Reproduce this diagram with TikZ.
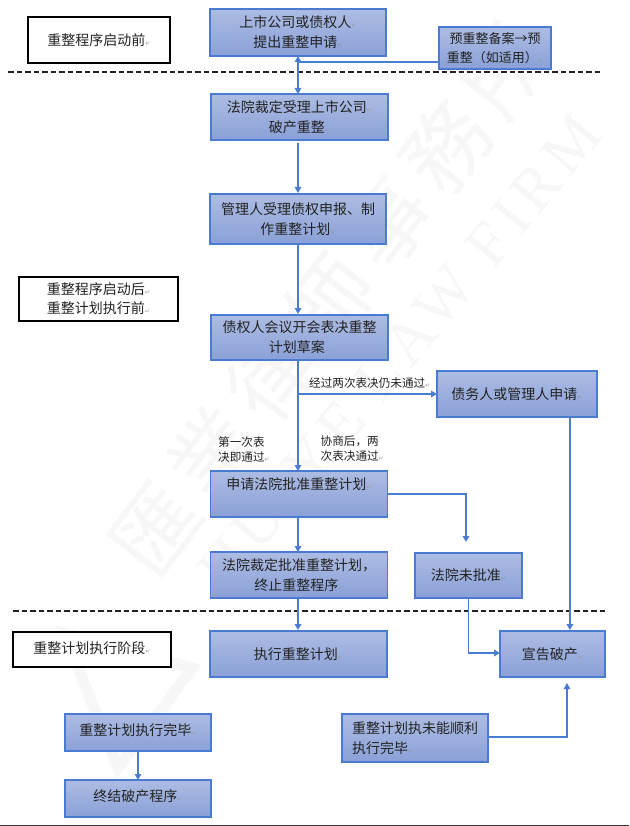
\documentclass[tikz,border=0pt]{standalone}
\usepackage{fontspec}
\usetikzlibrary{arrows.meta,calc}
\setmainfont{Noto Sans CJK SC}
\newfontfamily\djv{DejaVu Sans}
\newfontfamily\wmcjk[LetterSpace=13]{Noto Sans CJK TC}
\newfontfamily\wmlat[LetterSpace=12]{Liberation Serif}
\newcommand{\pmk}{{\djv\fontsize{6}{6}\selectfont\textcolor{black!40}{↵}}}
\definecolor{edgeblue}{HTML}{4A7BD0}
\definecolor{linkblue}{HTML}{4A7CD2}
\definecolor{gradtop}{HTML}{ADBCE3}
\definecolor{gradbot}{HTML}{8AA0D7}
\definecolor{inktext}{HTML}{222222}
\definecolor{wmark}{HTML}{F7F7F7}
\tikzset{
  x=1pt,y=-1pt,
  flowbox/.style={draw=edgeblue,line width=1.5pt,top color=gradtop,bottom color=gradbot,
    inner sep=0pt,outer sep=0pt,align=center,text=inktext,
    font=\fontsize{14}{20}\selectfont},
  stagebox/.style={draw=black,line width=1.6pt,fill=white,inner sep=0pt,outer sep=0pt,
    align=center,text=inktext,font=\fontsize{14}{20}\selectfont},
  link/.style={draw=linkblue,line width=1.7pt},
  linkarrow/.style={link,-{Triangle[length=6pt,width=6.5pt]}},
  linkboth/.style={link,{Triangle[length=6pt,width=6.5pt]}-{Triangle[length=6pt,width=6.5pt]}},
  smalltext/.style={inner sep=0pt,align=left,text=inktext,font=\fontsize{11.6}{15}\selectfont},
  divider/.style={draw=inktext,line width=1.6pt,dash pattern=on 5.5pt off 3pt},
  wmarktext/.style={inner sep=0pt,text=wmark},
}
\begin{document}
\begin{tikzpicture}
\path[fill=white] (0,0) rectangle (629,826);
\useasboundingbox (0,0) rectangle (629,826);
% watermark
\node[wmarktext,rotate=52.8,font=\wmcjk\fontsize{85}{85}\selectfont] (wm1) at (330,300) {匯業律師事務所};
\node[wmarktext,rotate=50.5,font=\wmlat\fontsize{62}{62}\selectfont] (wm2) at (400,352) {HUIYE LAW FIRM};
\draw[wmark,line width=11pt,line join=miter] (64,633) -- (192,668) -- (118,768) -- cycle;
% dividers and bottom rule
\coordinate (d1a) at (8,72); \coordinate (d1b) at (601,72);
\coordinate (d2a) at (13,611); \coordinate (d2b) at (605,611);
\draw[divider] (d1a) -- (d1b);
\draw[divider] (d2a) -- (d2b);
\fill[black!80] (0,824.6) rectangle (629,826);
% stage labels
\node[stagebox,minimum width=142pt,minimum height=46pt] (s1) at (99,40) {重整程序启动前\pmk};
\node[stagebox,minimum width=159pt,minimum height=44pt] (s2) at (98.5,299) {重整程序启动后\pmk\\[-1pt]重整计划执行前\pmk};
\node[stagebox,minimum width=158pt,minimum height=35pt] (s3) at (92,649.5) {\raisebox{4pt}{重整计划执行阶段\pmk}};
% flow boxes
\node[flowbox,minimum width=176pt,minimum height=47pt] (a) at (298,32.5) {上市公司或债权人\pmk\\提出重整申请\pmk};
\node[flowbox,minimum width=112pt,minimum height=42pt,font=\fontsize{13}{19.5}\selectfont] (b) at (495,48) {预重整备案→预\\重整（如适用）\pmk};
\node[flowbox,minimum width=177pt,minimum height=46pt] (c) at (299.5,117) {法院裁定受理上市公司\pmk\\破产重整\pmk};
\node[flowbox,minimum width=176pt,minimum height=50pt] (d) at (298,219) {管理人受理债权申报、制\\作重整计划\pmk};
\node[flowbox,minimum width=177pt,minimum height=45pt] (e) at (299.5,337.5) {债权人会议开会表决重整\\计划草案\pmk};
\node[flowbox,minimum width=160pt,minimum height=46pt] (f) at (517,394) {债务人或管理人申请\pmk};
\node[flowbox,minimum width=177pt,minimum height=46pt] (g) at (299,494) {申请法院批准重整计划\pmk\\~};
\node[flowbox,minimum width=177pt,minimum height=46pt] (h) at (299,575) {法院裁定批准重整计划，\\终止重整程序\pmk};
\node[flowbox,minimum width=107pt,minimum height=45pt] (i) at (468.5,575.5) {法院未批准\pmk};
\node[flowbox,minimum width=177pt,minimum height=46pt] (j) at (298.5,654) {执行重整计划\pmk};
\node[flowbox,minimum width=105pt,minimum height=46pt] (k) at (552.5,654) {宣告破产\pmk};
\node[flowbox,minimum width=146pt,minimum height=37pt] (l) at (138,732.5) {\raisebox{5pt}{重整计划执行完毕\pmk}};
\node[flowbox,minimum width=146pt,minimum height=37pt] (m) at (138,798.5) {\raisebox{5pt}{终结破产程序\pmk}};
\node[flowbox,minimum width=146pt,minimum height=48pt,align=left] (n) at (415,738) {重整计划执未能顺利\\执行完毕\pmk};
% free labels
\node[smalltext,anchor=west] (t1) at (309,383) {经过两次表决仍未通过\pmk};
\node[smalltext,anchor=north west] (t2) at (218,436) {第一次表\\决即通过\pmk};
\node[smalltext,anchor=north west] (t3) at (320.5,436) {协商后，两\\次表决通过\pmk};
% connectors
\coordinate (tk) at (298,0);
\draw[linkboth] (tk |- a.south) -- (tk |- c.north);
\draw[link] (b.west |- 0,62) -- (tk |- 0,62);
\draw[linkarrow,shorten <=3pt,shorten >=1pt] (tk |- c.south) -- (tk |- d.north);
\draw[linkarrow,shorten >=1pt] (tk |- d.south) -- (tk |- e.north);
\draw[linkarrow] (tk |- e.south) -- (tk |- g.north);
\coordinate (fork) at (299,394);
\draw[linkarrow] (fork) -- (f.west);
\draw[linkarrow] (tk |- g.south) -- (tk |- h.north);
\coordinate (gturn) at (466,494);
\draw[linkarrow,shorten >=11pt] (g.east) -- (gturn) -- (gturn |- i.north);
\draw[linkarrow,shorten >=1pt] (tk |- h.south) -- (tk |- j.north);
\coordinate (fdrop) at (569.9,0);
\draw[linkarrow,shorten >=1pt] (fdrop |- f.south) -- (fdrop |- k.north);
\coordinate (ilink) at (468.5,653);
\draw[linkarrow] (ilink |- i.south) -- (ilink) -- (ilink -| k.west);
\coordinate (nturn) at (567,737);
\draw[linkarrow,shorten >=6pt] (n.east |- nturn) -- (nturn) -- (nturn |- k.south);
\draw[linkarrow] (l.south) -- (m.north);
\end{tikzpicture}
\end{document}
